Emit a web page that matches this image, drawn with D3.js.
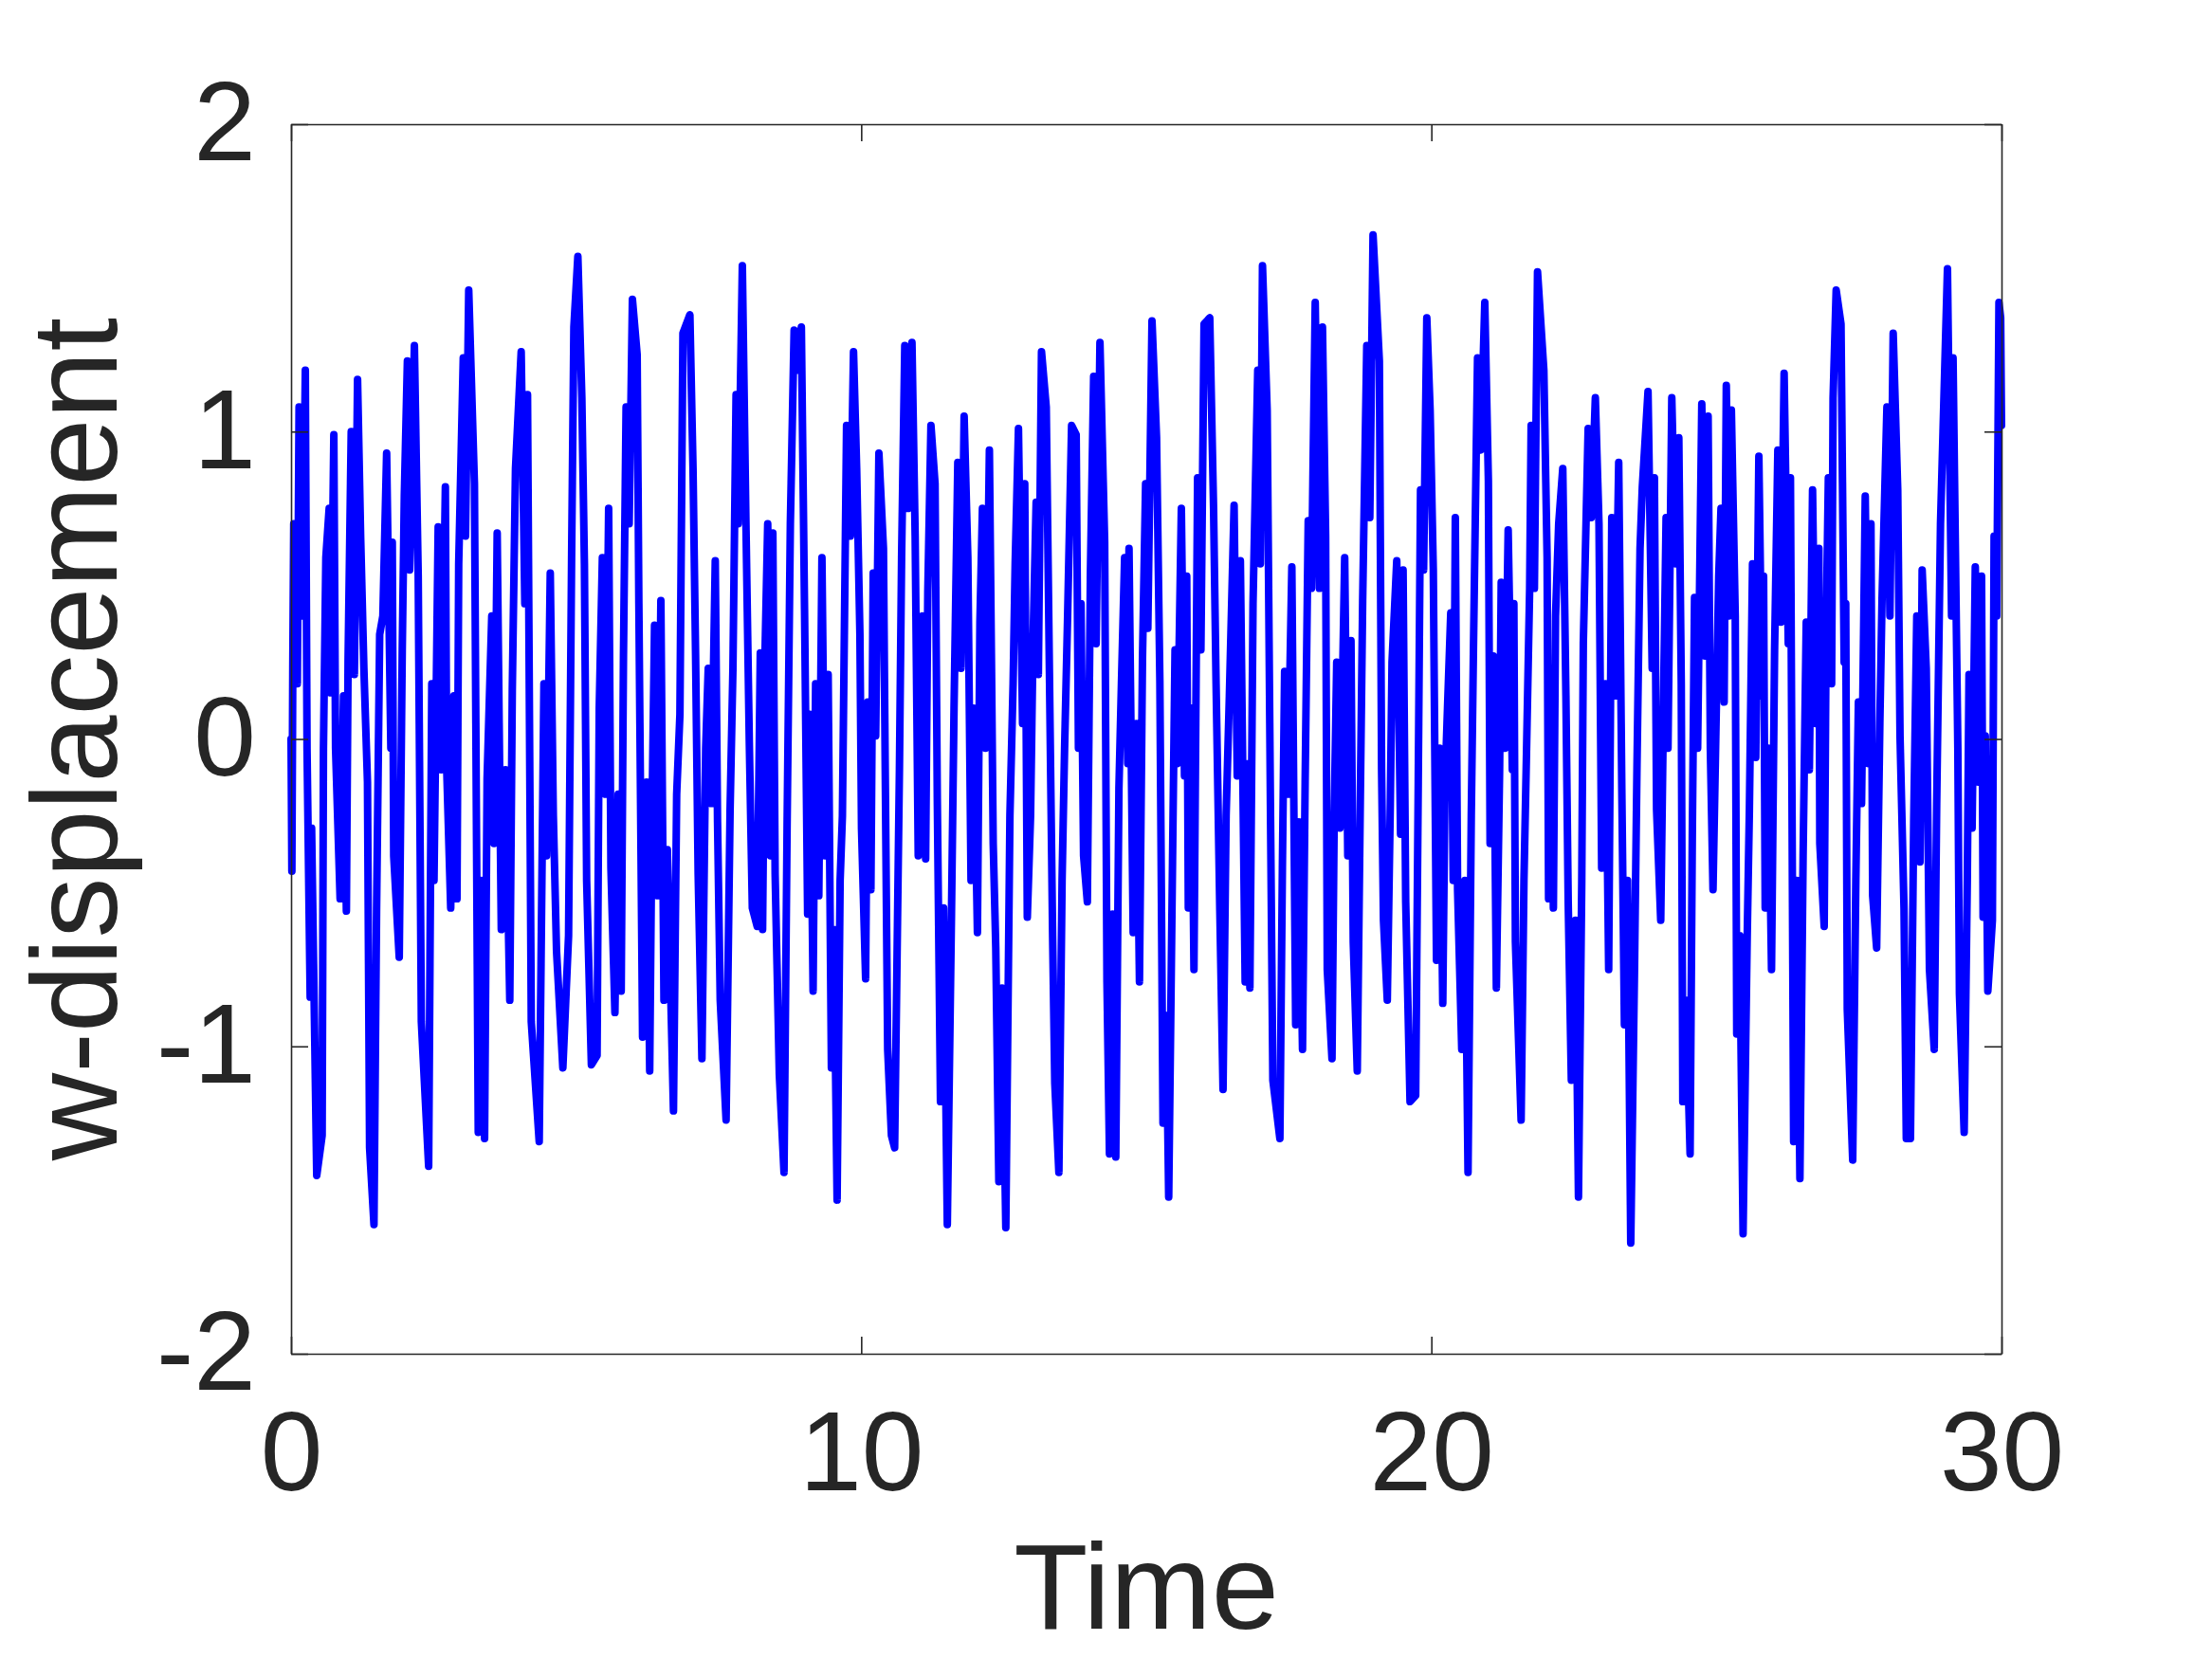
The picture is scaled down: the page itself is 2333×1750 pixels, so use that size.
<!DOCTYPE html>
<html><head><meta charset="utf-8">
<script src="https://cdn.jsdelivr.net/npm/d3@7"></script>
<style>body{margin:0;background:#fff}svg{display:block}</style>
</head><body>
<svg id="chart" width="2333" height="1750"></svg>
<script>
const xTicks = [0, 10, 20, 30];
const yTicks = [-2, -1, 0, 1, 2];
const xLabel = "Time";
const yLabel = "w-displacement";

// [time, w-displacement] samples, split by time window
const w0to5 = [[0,0],[0.014,-0.43],[0.03,0.23],[0.047,0.70],[0.11,0.18],[0.14,1.08],[0.20,0.40],[0.25,1.20],[0.28,-0.03],[0.335,-0.84],[0.36,-0.29],[0.45,-1.42],[0.545,-1.29],[0.568,-0.03],[0.61,0.59],[0.668,0.75],[0.695,0.15],[0.75,0.99],[0.78,-0.03],[0.86,-0.52],[0.92,0.14],[0.97,-0.56],[1.0,0.26],[1.055,1.0],[1.11,0.21],[1.166,1.17],[1.22,0.66],[1.277,0.23],[1.34,-0.14],[1.377,-1.33],[1.454,-1.58],[1.5,-0.55],[1.554,0.34],[1.61,0.40],[1.676,0.93],[1.75,-0.03],[1.775,0.64],[1.80,-0.38],[1.897,-0.71],[1.95,0.29],[1.986,0.79],[2.04,1.23],[2.08,0.55],[2.163,1.28],[2.23,0.53],[2.285,-0.92],[2.413,-1.39],[2.468,0.18],[2.507,-0.46],[2.58,0.69],[2.634,-0.10],[2.706,0.82],[2.73,-0.10],[2.80,-0.55],[2.856,0.14],[2.91,-0.52],[2.94,0.57],[3.02,1.24],[3.06,0.66],[3.116,1.46],[3.216,0.83],[3.283,-1.28],[3.34,-0.46],[3.394,-1.30],[3.438,-0.13],[3.52,0.40],[3.56,-0.34],[3.615,0.67],[3.687,-0.62],[3.76,-0.10],[3.836,-0.85],[3.88,0.16],[3.936,0.88],[4.036,1.26],[4.10,0.44],[4.147,1.12],[4.213,-0.92],[4.352,-1.31],[4.435,0.18],[4.48,-0.38],[4.546,0.54],[4.60,-0.25],[4.656,-0.69],[4.767,-1.07],[4.867,-0.64],[4.92,0.59],[4.96,1.34],[5.03,1.57]];
const w5to10 = [[5.10,1.11],[5.145,0.57],[5.184,-0.46],[5.267,-1.06],[5.367,-1.03],[5.405,0.10],[5.46,0.59],[5.516,-0.18],[5.57,0.75],[5.61,-0.42],[5.68,-0.89],[5.737,-0.18],[5.79,-0.82],[5.83,0.27],[5.876,1.08],[5.93,0.70],[5.987,1.43],[6.07,1.25],[6.10,0.44],[6.165,-0.97],[6.236,-0.14],[6.29,-1.08],[6.33,-0.25],[6.375,0.37],[6.43,-0.51],[6.486,0.45],[6.54,-0.85],[6.60,-0.36],[6.707,-1.21],[6.763,-0.18],[6.82,0.08],[6.873,1.32],[6.995,1.38],[7.05,0.88],[7.095,0.27],[7.14,-0.44],[7.206,-1.04],[7.272,-0.03],[7.317,0.23],[7.37,-0.21],[7.44,0.58],[7.48,-0.27],[7.527,-0.85],[7.63,-1.24],[7.70,-0.23],[7.75,0.23],[7.805,1.12],[7.843,0.70],[7.915,1.54],[7.98,0.68],[8.037,-0.01],[8.09,-0.55],[8.175,-0.61],[8.23,0.28],[8.27,-0.62],[8.314,0.29],[8.36,0.70],[8.41,-0.38],[8.45,0.67],[8.49,-0.44],[8.563,-1.09],[8.646,-1.41],[8.70,-0.28],[8.757,0.70],[8.823,1.33],[8.88,1.20],[8.95,1.34],[9.006,0.42],[9.06,-0.57],[9.10,0.08],[9.156,-0.82],[9.20,0.18],[9.256,-0.51],[9.311,0.59],[9.366,-0.38],[9.42,0.21],[9.477,-1.07],[9.52,-0.62],[9.577,-1.50],[9.63,-0.46],[9.67,-0.25],[9.743,1.02],[9.81,0.66],[9.865,1.26]];
const w10to15 = [[9.92,0.88],[9.977,0.34],[10.005,-0.29],[10.077,-0.78],[10.115,0.12],[10.17,-0.49],[10.21,0.54],[10.254,0.01],[10.31,0.93],[10.39,0.62],[10.42,-0.08],[10.464,-1.01],[10.53,-1.29],[10.586,-1.33],[10.67,-0.10],[10.708,0.59],[10.764,1.28],[10.82,0.75],[10.89,1.29],[10.946,0.66],[11.0,-0.38],[11.074,0.40],[11.13,-0.39],[11.168,0.48],[11.223,1.02],[11.295,0.83],[11.334,-0.19],[11.39,-1.18],[11.445,-0.55],[11.51,-1.58],[11.583,-0.57],[11.628,0.10],[11.694,0.90],[11.75,0.23],[11.805,1.05],[11.87,0.59],[11.926,-0.46],[11.97,0.10],[12.038,-0.63],[12.082,0.38],[12.126,0.75],[12.18,-0.03],[12.248,0.94],[12.315,-0.34],[12.36,-0.68],[12.414,-1.44],[12.47,-0.81],[12.536,-1.59],[12.608,-0.25],[12.664,0.18],[12.70,0.57],[12.758,1.01],[12.83,0.05],[12.868,0.83],[12.913,-0.58],[12.97,-0.25],[13.013,0.31],[13.068,0.77],[13.107,0.21],[13.162,1.26],[13.245,1.08],[13.30,0.23],[13.357,-0.64],[13.395,-1.12],[13.467,-1.41],[13.523,-0.46],[13.567,-0.03],[13.62,0.40],[13.69,1.02],[13.77,0.99],[13.81,-0.03],[13.855,0.44],[13.90,-0.38],[13.966,-0.53],[14.02,0.54],[14.077,1.18],[14.12,0.31],[14.187,1.29],[14.27,0.64],[14.31,-0.79],[14.354,-1.35],[14.41,-0.57],[14.465,-1.36],[14.52,-0.16],[14.564,0.18],[14.62,0.59],[14.675,-0.08],[14.697,0.62],[14.77,-0.63],[14.825,0.05],[14.88,-0.79]];
const w15to20 = [[14.933,0.26],[14.988,0.83],[15.027,0.36],[15.10,1.36],[15.18,0.98],[15.238,0.19],[15.293,-1.25],[15.35,-0.90],[15.393,-1.49],[15.46,-0.40],[15.504,0.29],[15.543,-0.08],[15.615,0.75],[15.67,-0.12],[15.709,0.53],[15.737,-0.55],[15.79,0.10],[15.836,-0.75],[15.90,0.85],[15.958,0.29],[16.013,1.35],[16.113,1.37],[16.18,0.75],[16.224,0.18],[16.29,-0.56],[16.346,-1.14],[16.40,-0.25],[16.457,0.14],[16.54,0.76],[16.595,-0.12],[16.65,0.58],[16.734,-0.79],[16.79,-0.08],[16.817,-0.81],[16.872,0.44],[16.955,1.20],[17.0,0.57],[17.038,1.54],[17.12,1.07],[17.177,-0.21],[17.22,-1.11],[17.343,-1.30],[17.387,-0.42],[17.426,0.22],[17.48,-0.18],[17.553,0.56],[17.62,-0.93],[17.675,-0.27],[17.74,-1.01],[17.786,-0.14],[17.84,0.71],[17.897,0.49],[17.963,1.42],[18.036,0.49],[18.09,1.34],[18.146,0.66],[18.174,-0.75],[18.257,-1.04],[18.296,-0.25],[18.34,0.25],[18.396,-0.29],[18.48,0.59],[18.534,-0.38],[18.59,0.32],[18.63,-0.66],[18.70,-1.08],[18.756,-0.16],[18.795,0.45],[18.867,1.28],[18.92,0.72],[18.977,1.64],[19.088,1.23],[19.127,-0.10],[19.16,-0.59],[19.227,-0.85],[19.28,-0.21],[19.31,0.25],[19.393,0.58],[19.46,-0.31],[19.504,0.55],[19.55,-0.53],[19.626,-1.18],[19.725,-1.16],[19.77,-0.14],[19.81,0.81],[19.864,0.55],[19.92,1.37]];
const w20to25 = [[19.978,1.07],[20.034,0.55],[20.09,-0.72],[20.145,-0.03],[20.20,-0.86],[20.24,-0.14],[20.283,0.10],[20.34,0.41],[20.383,-0.46],[20.42,0.72],[20.46,-0.49],[20.533,-1.01],[20.588,-0.46],[20.643,-1.41],[20.70,-0.25],[20.738,0.29],[20.81,1.24],[20.865,0.94],[20.937,1.42],[21.0,0.84],[21.03,-0.34],[21.087,0.27],[21.14,-0.81],[21.197,-0.10],[21.225,0.51],[21.29,-0.03],[21.347,0.68],[21.42,-0.10],[21.447,0.44],[21.474,-0.66],[21.574,-1.24],[21.624,-0.46],[21.668,-0.05],[21.724,0.49],[21.75,1.02],[21.807,0.49],[21.862,1.52],[21.973,1.20],[22.03,0.59],[22.056,-0.52],[22.10,0.05],[22.14,-0.55],[22.178,0.40],[22.233,0.70],[22.305,0.88],[22.36,0.14],[22.40,-0.53],[22.455,-1.11],[22.527,-0.59],[22.58,-1.49],[22.638,-0.46],[22.665,0.31],[22.75,1.01],[22.804,0.72],[22.876,1.11],[22.94,0.70],[22.987,-0.42],[23.053,0.18],[23.11,-0.75],[23.164,0.72],[23.22,0.14],[23.286,0.90],[23.34,-0.16],[23.386,-0.93],[23.44,-0.46],[23.497,-1.64],[23.563,-0.75],[23.607,-0.08],[23.66,0.62],[23.70,0.82],[23.80,1.13],[23.873,0.23],[23.912,0.85],[23.95,-0.23],[24.023,-0.59],[24.08,0.23],[24.117,0.72],[24.15,-0.03],[24.217,1.11],[24.283,0.57],[24.34,0.98],[24.383,0.18],[24.41,-1.18],[24.466,-0.85],[24.538,-1.35],[24.577,-0.31],[24.616,0.46],[24.67,-0.03],[24.743,1.09],[24.80,0.27],[24.854,1.05],[24.893,-0.03]];
const w25to30 = [[24.94,-0.49],[24.996,0.08],[25.04,0.53],[25.08,0.75],[25.135,0.12],[25.173,1.15],[25.22,0.40],[25.262,1.07],[25.33,0.40],[25.356,-0.96],[25.41,-0.64],[25.467,-1.61],[25.54,-0.64],[25.578,-0.23],[25.633,0.57],[25.69,-0.06],[25.744,0.92],[25.80,0.14],[25.827,0.53],[25.855,-0.55],[25.91,-0.03],[25.966,-0.75],[26.02,0.29],[26.077,0.94],[26.13,0.38],[26.187,1.19],[26.26,0.31],[26.298,0.85],[26.354,-1.31],[26.41,-0.46],[26.464,-1.43],[26.52,-0.38],[26.575,0.38],[26.63,-0.10],[26.686,0.81],[26.74,0.05],[26.797,0.62],[26.813,-0.34],[26.89,-0.61],[26.924,0.34],[26.963,0.85],[27.02,0.18],[27.046,1.11],[27.10,1.46],[27.185,1.35],[27.24,0.25],[27.268,0.44],[27.295,-0.88],[27.39,-1.37],[27.445,-0.46],[27.49,0.12],[27.545,-0.21],[27.61,0.79],[27.667,-0.08],[27.71,0.70],[27.74,-0.51],[27.81,-0.68],[27.866,0.05],[27.905,0.46],[27.99,1.08],[28.043,0.40],[28.10,1.32],[28.18,0.81],[28.22,0.01],[28.29,-0.55],[28.33,-1.30],[28.403,-1.30],[28.46,-0.27],[28.514,0.40],[28.57,-0.40],[28.608,0.55],[28.68,0.23],[28.736,-0.75],[28.82,-1.01],[28.863,-0.21],[28.93,0.70],[28.974,1.0],[29.052,1.53],[29.124,0.40],[29.15,1.24],[29.234,-0.03],[29.262,-0.83],[29.345,-1.28],[29.40,-0.46],[29.43,0.21],[29.484,-0.29],[29.54,0.56],[29.594,-0.14],[29.65,0.53],[29.677,-0.58],[29.716,0.01],[29.76,-0.82],[29.84,-0.59],[29.87,0.66],[29.916,0.40],[29.955,1.42],[29.985,1.37],[30.0,1.02]];

const samples = [].concat(w0to5, w5to10, w10to15, w15to20, w20to25, w25to30);

const plot = {left: 307, right: 2111, top: 131, bottom: 1428};
const ink = "#262626";
const font = "'Liberation Sans', Arial, Helvetica, sans-serif";
const tickFont = 118, labelFont = 128, tickLen = 18;

const x = d3.scaleLinear().domain([0, 30]).range([plot.left, plot.right]);
const y = d3.scaleLinear().domain([-2, 2]).range([plot.bottom, plot.top]);

const svg = d3.select("#chart");
svg.append("rect").attr("width", 2333).attr("height", 1750).attr("fill", "#fff");

const line = d3.line().x(d => x(d[0])).y(d => y(d[1]));
svg.append("path").datum(samples)
  .attr("d", line)
  .attr("fill", "none")
  .attr("stroke", "#0000ff")
  .attr("stroke-width", 8)
  .attr("stroke-linejoin", "round")
  .attr("stroke-linecap", "round");

function styleAxis(g, showText) {
  g.select(".domain").attr("stroke", ink).attr("stroke-width", 1.6);
  g.selectAll(".tick line").attr("stroke", ink).attr("stroke-width", 1.6);
  g.selectAll(".tick text")
    .attr("fill", ink).attr("font-family", font).attr("font-size", tickFont)
    .style("display", showText ? null : "none");
}

svg.append("g").attr("transform", `translate(0,${plot.bottom})`)
  .call(d3.axisBottom(x).tickValues(xTicks).tickSizeInner(-tickLen).tickSizeOuter(0).tickPadding(60).tickFormat(d3.format("d")))
  .call(g => styleAxis(g, true));
svg.append("g").attr("transform", `translate(0,${plot.top})`)
  .call(d3.axisTop(x).tickValues(xTicks).tickSizeInner(-tickLen).tickSizeOuter(0).tickFormat(""))
  .call(g => styleAxis(g, false));
svg.append("g").attr("transform", `translate(${plot.left},0)`)
  .call(d3.axisLeft(y).tickValues(yTicks).tickSizeInner(-tickLen).tickSizeOuter(0).tickPadding(37).tickFormat(d => d < 0 ? "-" + Math.abs(d) : String(d)))
  .call(g => styleAxis(g, true));
svg.append("g").attr("transform", `translate(${plot.right},0)`)
  .call(d3.axisRight(y).tickValues(yTicks).tickSizeInner(-tickLen).tickSizeOuter(0).tickFormat(""))
  .call(g => styleAxis(g, false));

svg.append("text")
  .attr("x", (plot.left + plot.right) / 2).attr("y", 1718)
  .attr("text-anchor", "middle")
  .attr("font-family", font).attr("font-size", labelFont).attr("fill", ink)
  .text(xLabel);

svg.append("text")
  .attr("transform", `translate(123,${(plot.top + plot.bottom) / 2}) rotate(-90)`)
  .attr("text-anchor", "middle")
  .attr("font-family", font).attr("font-size", labelFont).attr("fill", ink)
  .text(yLabel);
</script>
</body></html>
